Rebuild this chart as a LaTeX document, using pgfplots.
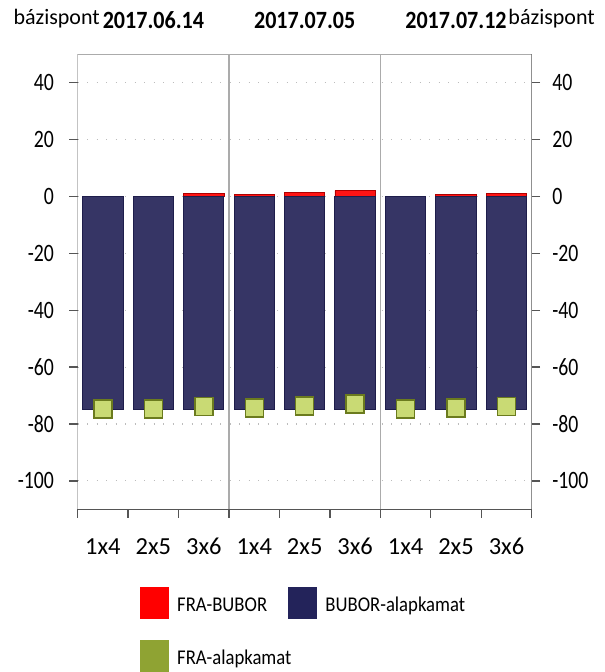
\documentclass[border=0pt]{standalone}
\usepackage{pgfplots}
\pgfplotsset{compat=1.18}
\usepackage{pgfplotstable}
\usepackage{fontspec}
\setmainfont{Carlito}
\newfontfamily\ylabfont{Carlito}[FakeStretch=0.79]
\newfontfamily\condfont{Carlito}[FakeStretch=0.89]
\definecolor{navyfill}{HTML}{363565}
\definecolor{navyedge}{HTML}{1E1D4B}
\definecolor{navyleg}{HTML}{23235A}
\definecolor{redfill}{HTML}{FF1414}
\definecolor{rededge}{HTML}{B00000}
\definecolor{redleg}{HTML}{FF0000}
\definecolor{greenfill}{HTML}{C9DA74}
\definecolor{greenedge}{HTML}{6B7B1E}
\definecolor{greenleg}{HTML}{8FA333}
\definecolor{axdark}{HTML}{555555}
\definecolor{axlight}{HTML}{ABABAB}

\pgfplotstableread{
x frabubor bubor fraalap
0 0.1 -75 -74.8
1 0.1 -75 -74.8
2 1.1 -75 -73.9
3 0.6 -75 -74.4
4 1.4 -75 -73.6
5 2.1 -75 -72.9
6 0.15 -75 -74.8
7 0.6 -75 -74.4
8 1.1 -75 -73.9
}\datatable

\begin{document}
\begin{tikzpicture}[x=1pt,y=1pt]
\path[use as bounding box] (0,0) rectangle (605,672);
\begin{axis}[
 at={(77.7pt,162.7pt)}, anchor=south west,
 scale only axis, width=454pt, height=455pt,
 xmin=-0.5, xmax=8.5, ymin=-110, ymax=50,
 axis line style={draw=none},
 xtick={-0.5,0.5,...,8.5}, xticklabels={},
 extra x ticks={0,...,8},
 extra x tick labels={1x4,2x5,3x6,1x4,2x5,3x6,1x4,2x5,3x6},
 extra x tick style={major tick length=0pt},
 xtick pos=left, ytick pos=left,
 tick align=outside,
 major tick length=8.5pt,
 ytick={-100,-80,...,40}, yticklabels={-100,-80,-60,-40,-20,0,20,40},
 yticklabel style={font=\ylabfont\fontsize{25}{25}\selectfont, anchor=east, inner sep=0pt, xshift=-15pt},
 xticklabel style={font=\fontsize{24.5}{25}\selectfont, anchor=base, inner sep=0pt, yshift=-45pt},
 tick style={axdark, line width=1.3pt},
 ymajorgrids, grid style={axlight!80, line width=1.2pt, dash pattern=on 1.2pt off 8.3pt},
 legend style={at={(0.1372,-0.1708)}, anchor=north west, draw=none, fill=none,
   legend columns=2, font=\condfont\fontsize{21}{21}\selectfont, inner sep=0pt,
   nodes={inner sep=0pt},
   /tikz/every odd column/.append style={column sep=8pt},
   /tikz/every even column/.append style={column sep=-3pt},
   row sep=20.5pt},
 legend image code/.code={\path[#1] (0pt,-14.2pt) rectangle (29pt,17.8pt);},
 legend cell align=left,
]
\addlegendimage{fill=redleg, draw=none}
\addlegendentry{FRA-BUBOR}
\addlegendimage{fill=navyleg, draw=none}
\addlegendentry{BUBOR-alapkamat}
\addlegendimage{fill=greenleg, draw=none}
\addlegendentry{FRA-alapkamat}

\addplot[ybar, bar width=0.8, bar shift=0pt, fill=redfill, draw=rededge, line width=0.8pt, forget plot]
  table[x=x, y=frabubor]{\datatable};
\addplot[ybar, bar width=0.8, bar shift=0pt, fill=navyfill, draw=navyedge, line width=1pt, forget plot]
  table[x=x, y=bubor]{\datatable};
\addplot[only marks, mark=square*, mark size=9pt, mark options={fill=greenfill, draw=greenedge, line width=1.5pt}, forget plot]
  table[x=x, y=fraalap]{\datatable};

\draw[axlight, line width=1.5pt] (axis cs:2.5,-110) -- (axis cs:2.5,50);
\draw[axlight, line width=1.5pt] (axis cs:5.5,-110) -- (axis cs:5.5,50);
\draw[axlight, line width=1.5pt] (rel axis cs:0,1) -- (rel axis cs:1,1);
\draw[axdark, line width=1.5pt] (rel axis cs:0,1) -- (rel axis cs:0,0) -- (rel axis cs:1,0) -- (rel axis cs:1,1);
\end{axis}
\begin{axis}[
 at={(77.7pt,162.7pt)}, anchor=south west,
 scale only axis, width=454pt, height=455pt,
 xmin=-0.5, xmax=8.5, ymin=-110, ymax=50,
 hide x axis, axis line style={draw=none},
 ytick pos=right, yticklabel pos=right,
 tick align=outside, major tick length=8.5pt,
 ytick={-100,-80,...,40}, yticklabels={-100,-80,-60,-40,-20,0,20,40},
 yticklabel style={font=\ylabfont\fontsize{25}{25}\selectfont, anchor=west, inner sep=0pt, xshift=12pt},
 tick style={axdark, line width=1.3pt},
]
\end{axis}
\node[anchor=base west, inner sep=0pt, font=\fontsize{22}{22}\selectfont] at (13.3,647) {bázispont};
\node[anchor=base east, inner sep=0pt, font=\fontsize{22}{22}\selectfont] at (595,647) {bázispont};
\node[anchor=base, inner sep=0pt, font=\condfont\bfseries\fontsize{24.8}{25}\selectfont] at (153.4,643) {2017.06.14};
\node[anchor=base, inner sep=0pt, font=\condfont\bfseries\fontsize{24.8}{25}\selectfont] at (304.7,643) {2017.07.05};
\node[anchor=base, inner sep=0pt, font=\condfont\bfseries\fontsize{24.8}{25}\selectfont] at (456,643) {2017.07.12};
\end{tikzpicture}
\end{document}
